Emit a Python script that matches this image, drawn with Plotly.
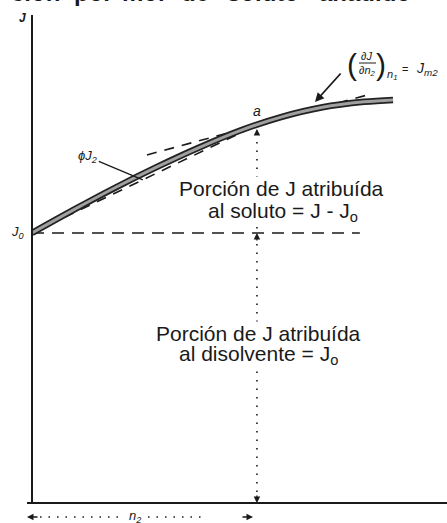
import numpy as np
import plotly.graph_objects as go

# ---- data ----------------------------------------------------------------
n2 = [0.0, 1.0, 2.0, 3.0, 4.0, 5.0, 6.0, 7.0, 8.0, 8.7]          # moles of solute
J = [5.50, 5.97, 6.42, 6.84, 7.23, 7.58, 7.86, 8.06, 8.17, 8.21]  # extensive property J
n2_a = 5.42                 # composition of point a
tangent_slope = 0.23        # (dJ/dn2) at a  -> J_m2
tangent_span = [2.77, 8.14]
J0_line_end = 7.9

J0 = J[0]
J_a = float(np.interp(n2_a, n2, J))

# ---- figure geometry ------------------------------------------------------
W, H = 447, 523
L, R, T, B = 32, 0, 12, 20
FONT = "Liberation Sans"
INK = "#1a1a1a"


def px(x):
    return (x - L) / (W - L - R)


def py(y):
    return (H - B - y) / (H - T - B)


fig = go.Figure()

# horizontal reference at J0
fig.add_trace(go.Scatter(x=[0, J0_line_end], y=[J0, J0], mode="lines",
                         line=dict(color=INK, width=1.6, dash="12px,8px"),
                         hoverinfo="skip"))
# chord J0 -> a (slope = apparent molar quantity)
fig.add_trace(go.Scatter(x=[0, n2_a], y=[J0, J_a], mode="lines",
                         line=dict(color=INK, width=1.6, dash="10px,8px"),
                         hoverinfo="skip"))
# tangent at a (slope = partial molar quantity)
tx = np.array(tangent_span)
ty = J_a + tangent_slope * (tx - n2_a)
fig.add_trace(go.Scatter(x=tx, y=ty, mode="lines",
                         line=dict(color=INK, width=1.6, dash="10px,8px"),
                         hoverinfo="skip"))
# dotted drop line from a to the n2 axis
fig.add_trace(go.Scatter(x=[n2_a, n2_a], y=[J_a, 0], mode="lines",
                         line=dict(color=INK, width=1.6, dash="1.5px,7px"),
                         hoverinfo="skip"))
# J(n2) curve: dark outline with grey core
fig.add_trace(go.Scatter(x=n2, y=J, mode="lines", line_shape="spline",
                         line=dict(color="#222222", width=6.5), hoverinfo="skip"))
fig.add_trace(go.Scatter(x=n2, y=J, mode="lines", line_shape="spline",
                         line=dict(color="#a0a0a0", width=3), hoverinfo="skip"))

ann = []


def text(x, y, s, size=13, italic=False, xref="paper", yref="paper",
         xanchor="center", yanchor="middle", **kw):
    ann.append(dict(x=x, y=y, xref=xref, yref=yref, text=s, showarrow=False,
                    xanchor=xanchor, yanchor=yanchor,
                    font=dict(family=FONT, size=size, color=INK,
                              style="italic" if italic else "normal"), **kw))


def arrow(x, y, ax, ay, xref="x", yref="y", head=2, width=1.3, standoff=0):
    ann.append(dict(x=x, y=y, xref=xref, yref=yref, text="", showarrow=True,
                    ax=ax, ay=ay, arrowhead=head, arrowsize=1, arrowwidth=width,
                    arrowcolor=INK, standoff=standoff))


# heading running off the top edge
for word, cx in [("ción", 35), ("por", 93), ("mol", 143), ("de", 195),
                 ("soluto", 263)]:
    text(px(cx), py(-7), "<b>" + word + "</b>", size=24)
text(px(317), py(-7), "<b>añadido</b>", size=24, xanchor="left")

# axis labels
text(px(22), py(18), "<b>J</b>", size=12, italic=True)
text(px(17), J0, "J<sub>0</sub>", size=13, italic=True, yref="y")
text(n2_a, J_a, "a", size=14, italic=True, xref="x", yref="y", yshift=14)

# phi J2 leader to the chord
x_phi = 2.67
y_phi = J0 + (J_a - J0) * x_phi / n2_a
ann.append(dict(x=x_phi, y=y_phi, xref="x", yref="y", text="ϕJ<sub>2</sub>",
                showarrow=True, ax=-55, ay=-23, arrowhead=0, arrowwidth=1.3,
                arrowcolor=INK,
                font=dict(family=FONT, size=13, color=INK, style="italic")))

# arrows along the drop line
arrow(n2_a, J_a, 0, 9, standoff=4)
arrow(n2_a, J0, 0, 9)
arrow(n2_a, 0, 0, -9)

# (dJ/dn2)_n1 = J_m2
text(px(352), py(64), "(", size=30)
text(px(366), py(56), "∂J", size=11, italic=True)
text(px(367), py(71), "∂n<sub>2</sub>", size=11, italic=True)
text(px(381), py(64), ")", size=30)
text(px(392), py(75), "n<sub>1</sub>", size=11, italic=True)
text(px(405), py(69), "=", size=11)
text(px(427), py(69), "J<sub>m2</sub>", size=14, italic=True)
arrow(px(315), py(102), 27, -30, xref="paper", yref="paper", width=1.8)

# region captions (white box hides the drop line behind the words)
for cx, cy, s in [(281, 189, "Porción de J atribuída"),
                  (283, 212, "al soluto = J - J<sub>o</sub>"),
                  (258, 333, "Porción de J atribuída"),
                  (258, 355, "al disolvente = J<sub>o</sub>")]:
    text(px(cx), py(cy), s, size=21, bgcolor="white", borderpad=0)

# n2 span below the axis
text(px(135), py(516), "n<sub>2</sub>", size=13, italic=True)
arrow(px(27), py(517), 12, 0, xref="paper", yref="paper")
arrow(px(253), py(517), -12, 0, xref="paper", yref="paper")

shapes = [
    # axes
    dict(type="line", xref="paper", yref="paper", x0=px(27), x1=1, y0=0, y1=0,
         line=dict(color=INK, width=2)),
    dict(type="line", xref="paper", yref="paper", x0=0, x1=0, y0=0, y1=py(15),
         line=dict(color=INK, width=2)),
    # fraction bar
    dict(type="line", xref="paper", yref="paper", x0=px(359), x1=px(376),
         y0=py(63), y1=py(63), line=dict(color=INK, width=1)),
    # dotted n2 span
    dict(type="line", xref="paper", yref="paper", x0=px(40), x1=px(118),
         y0=py(517), y1=py(517), line=dict(color=INK, width=1.5, dash="1.5px,7px")),
    dict(type="line", xref="paper", yref="paper", x0=px(148), x1=px(204),
         y0=py(517), y1=py(517), line=dict(color=INK, width=1.5, dash="1.5px,7px")),
]

fig.update_layout(
    width=W, height=H,
    margin=dict(l=L, r=R, t=T, b=B),
    paper_bgcolor="white", plot_bgcolor="white",
    showlegend=False,
    xaxis=dict(range=[0, 10], visible=False, fixedrange=True),
    yaxis=dict(range=[0, 10], visible=False, fixedrange=True),
    annotations=ann,
    shapes=shapes,
)

fig.write_html("out.html")
